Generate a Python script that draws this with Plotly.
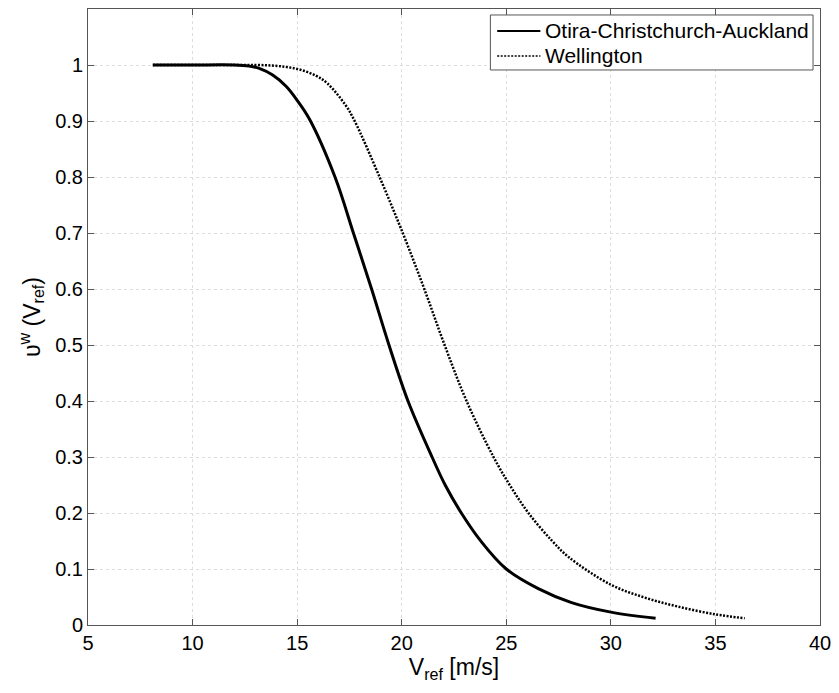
import plotly.graph_objects as go

# Otira-Christchurch-Auckland (solid)
oca_v = [8.1, 10, 12, 12.7, 13.19, 13.83, 14.47, 15.0, 15.58, 16.81, 17.69, 18.56, 19.39,
         20.3, 21.45, 22.09, 22.85, 23.76, 25.0, 26.53, 28.12, 30.0, 32.14]
oca_u = [1.0, 1.0, 1.0, 0.998, 0.994, 0.982, 0.962, 0.937, 0.904, 0.8, 0.7, 0.6, 0.5,
         0.4, 0.3, 0.249, 0.2, 0.151, 0.1, 0.065, 0.04, 0.023, 0.012]

# Wellington (dotted)
wel_v = [8.1, 12, 13.8, 15.0, 15.89, 16.45, 17.32, 17.75, 18.94, 20.05, 21.08, 22.05,
         23.1, 24.39, 25.18, 26.06, 27.17, 27.96, 30.0, 31.62, 33.2, 35.0, 36.4]
wel_u = [1.0, 1.0, 0.999, 0.993, 0.981, 0.967, 0.928, 0.9, 0.8, 0.7, 0.6, 0.5,
         0.4, 0.3, 0.249, 0.2, 0.151, 0.122, 0.072, 0.049, 0.033, 0.019, 0.012]

series_names = ["Otira-Christchurch-Auckland", "Wellington"]

x_ticks = [5, 10, 15, 20, 25, 30, 35, 40]
y_ticks = [0, 0.1, 0.2, 0.3, 0.4, 0.5, 0.6, 0.7, 0.8, 0.9, 1]
y_tick_labels = ["0", "0.1", "0.2", "0.3", "0.4", "0.5", "0.6", "0.7", "0.8", "0.9", "1"]

FONT = "Liberation Sans, Arial, sans-serif"
SOLID = dict(color="black", width=3)
DOTTED = dict(color="black", width=2.5, dash="2px,1.5px")

fig = go.Figure()
fig.add_trace(go.Scatter(x=oca_v, y=oca_u, mode="lines", name=series_names[0],
                         line=dict(**SOLID, shape="spline", smoothing=1.0)))
fig.add_trace(go.Scatter(x=wel_v, y=wel_u, mode="lines", name=series_names[1],
                         line=dict(**DOTTED, shape="spline", smoothing=1.0)))

axis_common = dict(
    showline=True, linecolor="#555555", linewidth=1, mirror="ticks",
    ticks="inside", ticklen=6, tickcolor="#555555",
    showgrid=True, gridcolor="#dddddd", griddash="dot", gridwidth=1,
    zeroline=False, tickfont=dict(family=FONT, size=20, color="black"),
)

fig.update_xaxes(range=[5, 40], tickvals=x_ticks,
                 title=dict(text="V<sub>ref</sub> [m/s]", font=dict(family=FONT, size=23, color="black"),
                            standoff=0),
                 **axis_common)
fig.update_yaxes(range=[0, 1.1], tickvals=y_ticks, ticktext=y_tick_labels,
                 title=dict(text="υ<sup>w</sup> (V<sub>ref</sub>)", font=dict(family=FONT, size=23, color="black"),
                            standoff=8),
                 **axis_common)

# legend box drawn in paper coordinates (MATLAB-style legend)
lg_x0, lg_x1, lg_y0, lg_y1 = 0.5497, 0.9905, 0.901, 0.9903
row_y = [0.9643, 0.9238]
line_x0, line_x1, text_x = 0.559, 0.618, 0.6215
fig.add_shape(type="rect", xref="paper", yref="paper", x0=lg_x0, x1=lg_x1, y0=lg_y0, y1=lg_y1,
              line=dict(color="#555555", width=1), fillcolor="white", layer="above")
for name, ry, style in zip(series_names, row_y, [SOLID, DOTTED]):
    fig.add_shape(type="line", xref="paper", yref="paper", x0=line_x0, x1=line_x1, y0=ry, y1=ry,
                  line=dict(color=style["color"], width=2 if style is SOLID else 1.5,
                            dash=style.get("dash", "solid")), layer="above")
    fig.add_annotation(x=text_x, y=ry, xref="paper", yref="paper", text=name, showarrow=False,
                       xanchor="left", yanchor="middle",
                       font=dict(family=FONT, size=21, color="black"))

fig.update_layout(
    width=839, height=693,
    margin=dict(l=88, r=16, t=8, b=68),
    plot_bgcolor="white", paper_bgcolor="white",
    font=dict(family=FONT, color="black"),
    showlegend=False,
)

fig.write_html("out.html", config={"displayModeBar": False},
               post_script="document.body.style.margin='0';")
